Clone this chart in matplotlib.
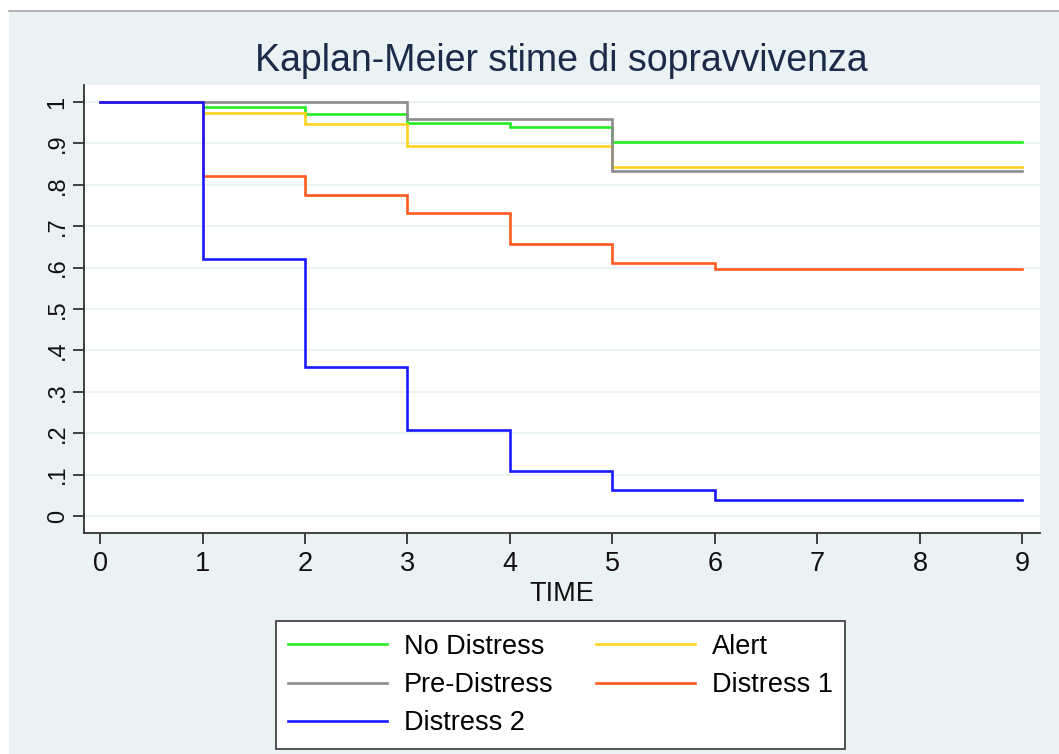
import matplotlib
matplotlib.use("Agg")
import matplotlib.pyplot as plt
from matplotlib.patches import Rectangle
from matplotlib.lines import Line2D

plt.rcParams["font.family"] = ["Liberation Sans", "DejaVu Sans"]

# Kaplan-Meier survival estimates, one value per time point (step after each time)
time = [0, 1, 2, 3, 4, 5, 6, 7, 8, 9]
no_distress = [1, 0.987, 0.970, 0.950, 0.940, 0.903, 0.903, 0.903, 0.903, 0.903]
alert = [1, 0.973, 0.947, 0.894, 0.894, 0.842, 0.842, 0.842, 0.842, 0.842]
pre_distress = [1, 1, 1, 0.958, 0.958, 0.834, 0.834, 0.834, 0.834, 0.834]
distress_1 = [1, 0.821, 0.776, 0.732, 0.656, 0.611, 0.596, 0.596, 0.596, 0.596]
distress_2 = [1, 0.620, 0.360, 0.207, 0.108, 0.063, 0.039, 0.039, 0.039, 0.039]

series = [
    ("No Distress", no_distress, "#22ee22"),
    ("Alert", alert, "#ffd21f"),
    ("Pre-Distress", pre_distress, "#8c8c8c"),
    ("Distress 1", distress_1, "#ff5a1f"),
    ("Distress 2", distress_2, "#1a1aff"),
]

y_ticks = [0, 0.1, 0.2, 0.3, 0.4, 0.5, 0.6, 0.7, 0.8, 0.9, 1.0]
y_labels = ["0", ".1", ".2", ".3", ".4", ".5", ".6", ".7", ".8", ".9", "1"]
x_ticks = [0, 1, 2, 3, 4, 5, 6, 7, 8, 9]

W, H = 1059, 754
fig = plt.figure(figsize=(W / 100, H / 100), dpi=100, facecolor="white")
bg = "#eaf2f3"
fig.patches.append(Rectangle((9 / W, 0), 1 - 9 / W, (H - 11) / H,
                             transform=fig.transFigure, facecolor=bg,
                             edgecolor="none", zorder=-10))
fig.add_artist(Line2D([9 / W, 1], [(H - 10.5) / H] * 2, color="#a8a8a8", lw=1.2))

ax = fig.add_axes([83.5 / W, (H - 533) / H, (1039.5 - 83.5) / W, (533 - 85) / H])
ax.set_facecolor("white")

handles = {}
for name, vals, col in series:
    (ln,) = ax.step(time, vals, where="post", color=col, lw=1.9, label=name,
                    solid_joinstyle="miter")
    handles[name] = ln

ax.set_xlim(-0.161, 9.166)
ax.set_ylim(-0.041, 1.041)
ax.set_yticks(y_ticks)
ax.set_yticklabels(y_labels, rotation=90, va="center")
ax.set_xticks(x_ticks)
ax.grid(axis="y", color=bg, lw=1.3)
ax.set_axisbelow(True)

for s in ("top", "right"):
    ax.spines[s].set_visible(False)
for s in ("left", "bottom"):
    ax.spines[s].set_color("#333333")
    ax.spines[s].set_linewidth(1.3)
ax.tick_params(direction="out", length=7.7, width=1.3, color="#333333",
               labelcolor="#111111")
ax.tick_params(axis="x", labelsize=19.5, pad=5)
ax.tick_params(axis="y", labelsize=17, pad=3)

ax.set_xlabel("TIME", fontsize=19.5, color="#111111", labelpad=3)
fig.text(0.5297, (H - 61) / H, "Kaplan-Meier stime di sopravvivenza",
         ha="center", va="center", fontsize=27, color="#1e2a4a")

order = ["No Distress", "Pre-Distress", "Distress 2", "Alert", "Distress 1"]
leg = fig.legend([handles[n] for n in order], order, ncol=2,
                 loc="center", bbox_to_anchor=(560.5 / W, (H - 685) / H),
                 fontsize=19.5, frameon=True, fancybox=False, framealpha=1,
                 edgecolor="#444444", handlelength=3.65, handletextpad=0.63,
                 columnspacing=1.58, labelspacing=0.46, borderpad=0.45)
leg.get_frame().set_linewidth(1.3)

fig.savefig("out.png", dpi=100, facecolor=fig.get_facecolor())
